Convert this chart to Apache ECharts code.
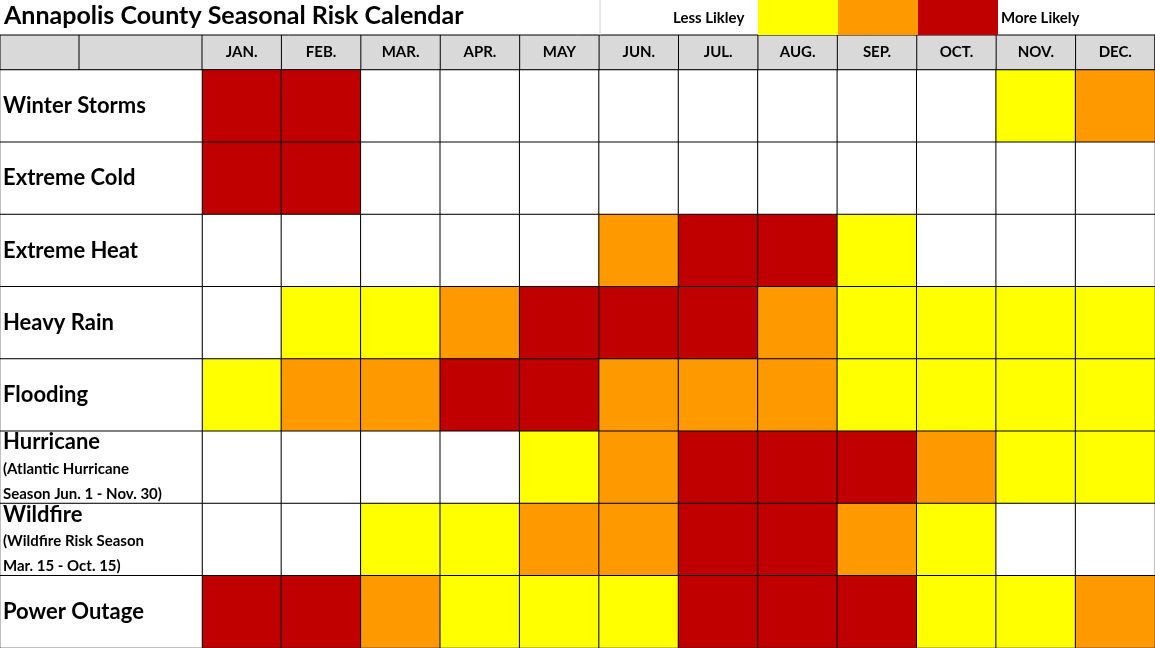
<!DOCTYPE html>
<html><head><meta charset="utf-8">
<script src="https://cdn.jsdelivr.net/npm/echarts@6/dist/echarts.min.js"></script>
<style>html,body{margin:0;padding:0;background:#fff}#c{width:1155px;height:648px}</style>
</head><body><div id="c"></div>
<script>
const months = ['JAN.','FEB.','MAR.','APR.','MAY','JUN.','JUL.','AUG.','SEP.','OCT.','NOV.','DEC.'];
const hazards = ['Winter Storms','Extreme Cold','Extreme Heat','Heavy Rain','Flooding','Hurricane','Wildfire','Power Outage'];
const subLabels = {'Hurricane':['(Atlantic Hurricane','Season Jun. 1 - Nov. 30)'],'Wildfire':['(Wildfire Risk Season','Mar. 15 - Oct. 15)']};
// 0 none, 1 less likely, 2 medium, 3 more likely
const winterStorms = [3,3,0,0,0,0,0,0,0,0,1,2];
const extremeCold  = [3,3,0,0,0,0,0,0,0,0,0,0];
const extremeHeat  = [0,0,0,0,0,2,3,3,1,0,0,0];
const heavyRain    = [0,1,1,2,3,3,3,2,1,1,1,1];
const flooding     = [1,2,2,3,3,2,2,2,1,1,1,1];
const hurricane    = [0,0,0,0,1,2,3,3,3,2,1,1];
const wildfire     = [0,0,1,1,2,2,3,3,2,1,0,0];
const powerOutage  = [3,3,2,1,1,1,3,3,3,1,1,2];
const rows = [winterStorms,extremeCold,extremeHeat,heavyRain,flooding,hurricane,wildfire,powerOutage];
const colors = ['#ffffff','#ffff00','#ff9900','#c00000'];
const FONT = 'Lato';

const data = [];
rows.forEach((r,yi)=>r.forEach((v,xi)=>data.push({value:[xi,yi,v],itemStyle:{color:colors[v]}})));
const labelData = hazards.map((h,i)=>[0,i,0]);

const chart = echarts.init(document.getElementById('c'));
chart.setOption({
  animation:false,
  grid:[
    {left:202,right:0,top:70,bottom:0},
    {left:0,width:202,top:70,bottom:0}
  ],
  xAxis:[
    {type:'category',data:months,position:'top',gridIndex:0,axisTick:{show:false},axisLine:{show:false},
     axisLabel:{fontFamily:FONT,fontWeight:'bold',fontSize:15,color:'#000',margin:10},splitLine:{show:false}},
    {type:'category',data:[''],gridIndex:1,show:false}
  ],
  yAxis:[
    {type:'category',data:hazards,inverse:true,gridIndex:0,show:false},
    {type:'category',data:hazards,inverse:true,gridIndex:1,axisTick:{show:false},axisLine:{show:false},
     axisLabel:{inside:true,margin:3,align:'left',verticalAlign:'middle',color:'#000',
       formatter:(v)=>subLabels[v]?'{m|'+v+'}\n{s|'+subLabels[v][0]+'}\n{s|'+subLabels[v][1]+'}':'{m|'+v+'}',
       rich:{m:{fontFamily:FONT,fontWeight:'bold',fontSize:22,color:'#000',lineHeight:28},
             s:{fontFamily:FONT,fontWeight:'bold',fontSize:15,color:'#000',lineHeight:25}}},
     z:10}
  ],
  series:[
    {type:'heatmap',xAxisIndex:0,yAxisIndex:0,data:data,itemStyle:{borderColor:'#000',borderWidth:1}},
    {type:'heatmap',xAxisIndex:1,yAxisIndex:1,data:labelData,itemStyle:{color:'#fff',borderColor:'#000',borderWidth:1}}
  ],
  graphic:[
    {type:'rect',z:-1,shape:{x:0,y:35,width:1155,height:35},style:{fill:'#d9d9d9',stroke:'#000',lineWidth:1}},
    {type:'line',z:5,shape:{x1:79,y1:35,x2:79,y2:70},style:{stroke:'#000',lineWidth:1}},
    {type:'line',z:5,shape:{x1:202,y1:35,x2:202,y2:70},style:{stroke:'#000',lineWidth:1}},
    ...months.map((m,i)=>({type:'line',z:5,shape:{x1:202+(i+1)*953/12,y1:35,x2:202+(i+1)*953/12,y2:70},style:{stroke:'#000',lineWidth:1}})),
    {type:'text',left:4,top:3,style:{text:'Annapolis County Seasonal Risk Calendar',font:'bold 25px '+FONT,fill:'#000'}},
    {type:'line',shape:{x1:600,y1:0,x2:600,y2:35},style:{stroke:'#d0d0d0',lineWidth:1}},
    {type:'text',left:673,top:11,style:{text:'Less Likley',font:'bold 15px '+FONT,fill:'#000'}},
    {type:'rect',shape:{x:758,y:0,width:80,height:35},style:{fill:colors[1]}},
    {type:'rect',shape:{x:838,y:0,width:80,height:35},style:{fill:colors[2]}},
    {type:'rect',shape:{x:918,y:0,width:80,height:35},style:{fill:colors[3]}},
    {type:'text',left:1001,top:11,style:{text:'More Likely',font:'bold 15px '+FONT,fill:'#000'}}
  ]
});
</script></body></html>
